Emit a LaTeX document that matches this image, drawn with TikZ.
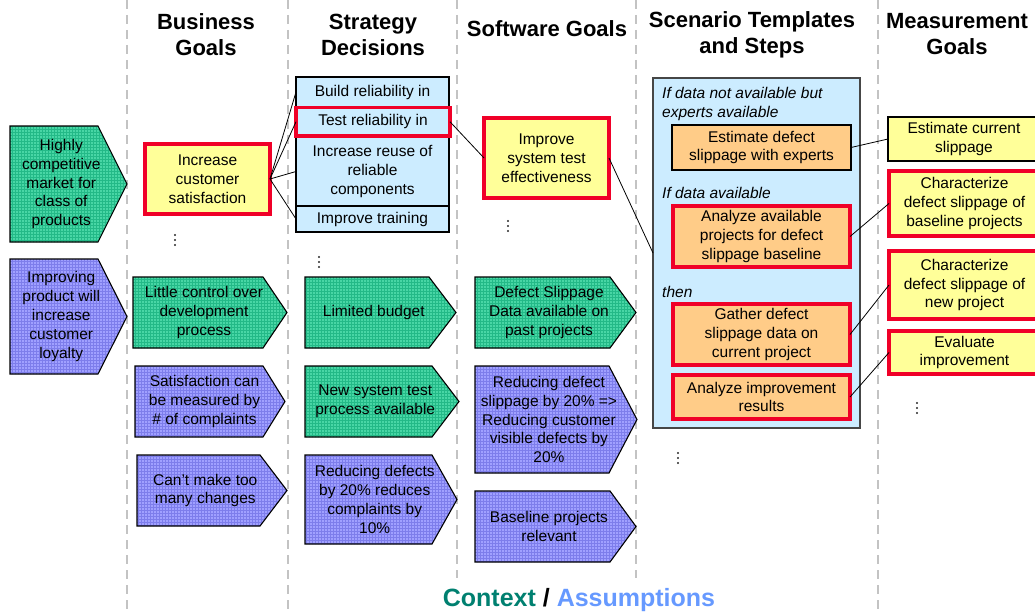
\documentclass[tikz,border=0pt]{standalone}
\usepackage{fontspec}
\setmainfont{Liberation Sans}
\usetikzlibrary{patterns}
\definecolor{greenF}{RGB}{72,214,165}
\definecolor{greenL}{RGB}{35,185,135}
\definecolor{purpF}{RGB}{160,160,255}
\definecolor{purpL}{RGB}{125,125,235}
\definecolor{yellowF}{RGB}{255,255,153}
\definecolor{orangeF}{RGB}{255,204,136}
\definecolor{blueF}{RGB}{204,236,255}
\definecolor{redB}{RGB}{240,0,40}
\definecolor{ctxc}{RGB}{0,128,112}
\definecolor{asmc}{RGB}{102,153,255}
\definecolor{sepgray}{RGB}{195,195,195}
\definecolor{boxgray}{RGB}{70,70,70}
\definecolor{dotc}{RGB}{40,40,40}
\tikzset{
  txt/.style={align=center, inner sep=0pt, font=\fontsize{15.5}{18.8}\selectfont},
  itlab/.style={anchor=west, align=left, inner sep=0pt, font=\fontsize{15.5}{19.5}\selectfont\itshape},
  hdr/.style={align=center, inner sep=0pt, font=\fontsize{22}{26}\selectfont\bfseries},
  greenpent/.style={draw=black, line width=1.1pt, preaction={fill=greenF}, pattern=grid, pattern color=greenL},
  purppent/.style={draw=black, line width=1.1pt, preaction={fill=purpF}, pattern=grid, pattern color=purpL},
  sepline/.style={draw=sepgray, line width=2pt, dash pattern=on 9pt off 6pt},
  boxbase/.style={rectangle, inner sep=0pt, outer sep=0pt, align=center, font=\fontsize{15.5}{18.8}\selectfont},
  yelred/.style={boxbase, fill=yellowF, draw=redB, line width=3.5pt},
  yelblk/.style={boxbase, fill=yellowF, draw=black, line width=1.1pt},
  orared/.style={boxbase, fill=orangeF, draw=redB, line width=3.5pt},
  orablk/.style={boxbase, fill=orangeF, draw=black, line width=1.1pt},
  blublk/.style={boxbase, fill=blueF, draw=black, line width=1.1pt},
  blured/.style={boxbase, fill=blueF, draw=redB, line width=3.5pt},
  scenbox/.style={boxbase, fill=blueF, draw=boxgray, line width=1.3pt},
  conn/.style={draw=black, line width=0.8pt},
  dotf/.style={fill=dotc},
}
% name, left, top, rect right, tip x, bottom, style, text
\newcommand\pentbox[8]{%
  \path[#7] (#2,#3) -- (#4,#3) -- (#5,{(#3+#6)/2}) -- (#4,#6) -- (#2,#6) -- cycle;
  \node[txt] (#1) at ({(#2+(#4+#5)/2)/2},{(#3+#6)/2}) {#8};
}
% name, left, top, right, bottom, style, text
\newcommand\rectnode[7]{%
  \node[#6, minimum width={(#4-#2)*1pt}, minimum height={(#5-#3)*1pt}] (#1) at ({(#2+#4)/2},{(#3+#5)/2}) {#7};
}
% vertical continuation dots: name, x, y (centre)
\newcommand\contdots[3]{%
  \coordinate (#1) at (#2,#3);
  \fill[dotf] (#1) ++(0,-5) circle (1.1);
  \fill[dotf] (#1) circle (1.1);
  \fill[dotf] (#1) ++(0,5) circle (1.1);
}
\begin{document}
\begin{tikzpicture}[x=1pt, y=-1pt]
\useasboundingbox (0,0) rectangle (1035,615);
\clip (0,0) rectangle (1035,615);

% column separators
\coordinate (s1a) at (127,0); \coordinate (s1b) at (127,615);
\coordinate (s2a) at (288,0); \coordinate (s2b) at (288,615);
\coordinate (s3a) at (457,0); \coordinate (s3b) at (457,578);
\coordinate (s4a) at (636,0); \coordinate (s4b) at (636,578);
\coordinate (s5a) at (878,0); \coordinate (s5b) at (878,615);
\draw[sepline] (s1a) -- (s1b);
\draw[sepline] (s2a) -- (s2b);
\draw[sepline] (s3a) -- (s3b);
\draw[sepline] (s4a) -- (s4b);
\draw[sepline] (s5a) -- (s5b);

% headers
\node[hdr] (h1) at (206,34.5) {Business\\Goals};
\node[hdr] (h2) at (373,34.5) {Strategy\\Decisions};
\node[hdr] (h3) at (547,29) {Software Goals};
\node[hdr] (h4) at (752,34.5) {Scenario Templates\\and Steps};
\node[hdr] (h5) at (957,34.5) {Measurement\\Goals};

% context / assumptions (pentagons)
\pentbox{p1}{10}{126}{98}{127}{242}{greenpent}{Highly\\competitive\\market for\\class of\\products}
\pentbox{p2}{10}{259}{98}{127}{374}{purppent}{Improving\\product will\\increase\\customer\\loyalty}
\pentbox{b1}{133}{277}{263}{287}{348}{greenpent}{Little control over\\development\\process}
\pentbox{b2}{135}{366}{263}{285}{437}{purppent}{Satisfaction can\\be measured by\\\# of complaints}
\pentbox{b3}{137}{455}{260}{287}{526}{purppent}{Can’t make too\\many changes}
\pentbox{s1}{305}{277}{429}{456}{348}{greenpent}{Limited budget}
\pentbox{s2}{305}{366}{432}{459}{437}{greenpent}{New system test\\process available}
\pentbox{s3}{305}{455}{432}{457}{544}{purppent}{Reducing defects\\by 20\% reduces\\complaints by\\10\%}
\pentbox{g1}{475}{277}{610}{636}{348}{greenpent}{Defect Slippage\\Data available on\\past projects}
\pentbox{g2}{475}{366}{609}{637}{473}{purppent}{Reducing defect\\slippage by 20\% =>\\Reducing customer\\visible defects by\\20\%}
\pentbox{g3}{475}{491}{610}{636}{562}{purppent}{Baseline projects\\relevant}

% business goal
\rectnode{incsat}{145}{144}{270}{214}{yelred}{Increase\\customer\\satisfaction}

% strategy decisions
\rectnode{build}{296}{77}{449}{107}{blublk}{Build reliability in}
\rectnode{reuse}{296}{137}{449}{206}{blublk}{Increase reuse of\\reliable\\components}
\rectnode{training}{296}{206}{449}{232}{blublk}{Improve training}
\rectnode{test}{296}{107.5}{450}{136}{blured}{Test reliability in}

% software goal
\rectnode{impsys}{484}{118}{609}{198}{yelred}{Improve\\system test\\effectiveness}

% scenario templates
\rectnode{scen}{653}{78}{860}{428}{scenbox}{}
\node[itlab] (lab1) at (662,104) {If data not available but\\experts available};
\rectnode{estexp}{672}{125}{851}{170}{orablk}{Estimate defect\\slippage with experts}
\node[itlab] (lab2) at (662,193) {If data available};
\rectnode{anaavail}{673}{206}{850}{267}{orared}{Analyze available\\projects for defect\\slippage baseline}
\node[itlab] (lab3) at (662,292) {then};
\rectnode{gather}{673}{304}{850}{365}{orared}{Gather defect\\slippage data on\\current project}
\rectnode{anaimp}{673}{375}{850}{419}{orared}{Analyze improvement\\results}

% measurement goals
\rectnode{estcur}{888}{117}{1040}{161}{yelblk}{Estimate current\\slippage}
\rectnode{charbase}{889}{171}{1040}{236}{yelred}{Characterize\\defect slippage of\\baseline projects}
\rectnode{charnew}{889}{251}{1040}{319}{yelred}{Characterize\\defect slippage of\\new project}
\rectnode{evalimp}{889}{331}{1040}{374}{yelred}{Evaluate\\improvement}

% connectors
\draw[conn] (incsat.east) -- (build.west);
\draw[conn] (incsat.east) -- (test.west);
\draw[conn] (incsat.east) -- (reuse.west);
\draw[conn] (incsat.east) -- (training.west);
\draw[conn] (test.east) -- (impsys.west);
\draw[conn] (impsys.east) -- (scen.west);
\draw[conn] (estexp.east) -- (estcur.west);
\draw[conn] (anaavail.east) -- (charbase.west);
\draw[conn] (gather.east) -- (charnew.west);
\draw[conn] (anaimp.east) -- (evalimp.west);

% continuation dots
\contdots{d1}{175}{240}
\contdots{d2}{319}{262}
\contdots{d3}{508}{226}
\contdots{d4}{678}{458}
\contdots{d5}{917}{408}

% footer
\node[inner sep=0pt, font=\fontsize{25}{30}\selectfont\bfseries] (ctx) at (579,600) {\textcolor{ctxc}{Context} / \textcolor{asmc}{Assumptions}};
\end{tikzpicture}
\end{document}
